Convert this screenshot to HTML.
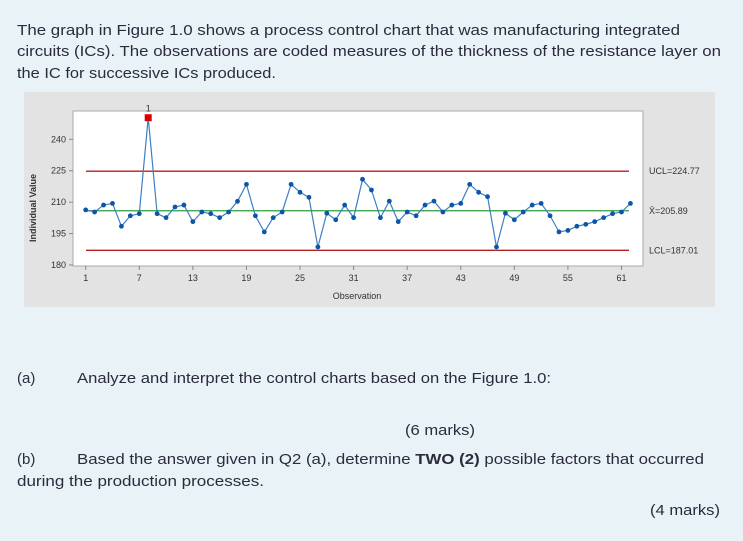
<!DOCTYPE html>
<html><head><meta charset="utf-8"><style>
html,body{margin:0;padding:0;background:#e9f2f6;}
svg{display:block;font-family:"Liberation Sans",sans-serif;}
.q{font-size:15px;fill:#2b2b3d;}
.ax{font-size:9px;fill:#333;}
</style></head><body>
<svg id="page" width="743" height="541" viewBox="0 0 743 541">
<rect width="743" height="541" fill="#e9f2f6"/>
<text class="q" x="17" y="35" textLength="663" lengthAdjust="spacingAndGlyphs">The graph in Figure 1.0 shows a process control chart that was manufacturing integrated</text>
<text class="q" x="17" y="56" textLength="704" lengthAdjust="spacingAndGlyphs">circuits (ICs). The observations are coded measures of the thickness of the resistance layer on</text>
<text class="q" x="17" y="78" textLength="259" lengthAdjust="spacingAndGlyphs">the IC for successive ICs produced.</text>

<g id="chart">
<rect x="24" y="92" width="691" height="215" fill="#e3e3e3"/>
<rect x="73" y="111" width="570" height="155" fill="#fff" stroke="#aaa" stroke-width="1"/>
<g id="marks"></g>
<text x="33" y="205" class="ax" transform="rotate(-90 36 205)" text-anchor="middle" font-weight="bold">Individual Value</text>
<text x="357" y="299" class="ax" text-anchor="middle">Observation</text>
</g>

<text class="q" x="17" y="383">(a)</text>
<text class="q" x="77" y="383" textLength="474" lengthAdjust="spacingAndGlyphs">Analyze and interpret the control charts based on the Figure 1.0:</text>
<text class="q" x="405" y="435" textLength="70" lengthAdjust="spacingAndGlyphs">(6 marks)</text>
<text class="q" x="17" y="464">(b)</text>
<text class="q" x="77" y="464" textLength="627" lengthAdjust="spacingAndGlyphs">Based the answer given in Q2 (a), determine <tspan font-weight="bold">TWO (2)</tspan> possible factors that occurred</text>
<text class="q" x="17" y="486" textLength="247" lengthAdjust="spacingAndGlyphs">during the production processes.</text>
<text class="q" x="650" y="515" textLength="70" lengthAdjust="spacingAndGlyphs">(4 marks)</text>
</svg>
<script>
const values=[206.3,205.3,208.6,209.4,198.5,203.5,204.5,250.3,204.5,202.6,207.7,208.6,200.7,205.3,204.5,202.6,205.3,210.4,218.5,203.5,195.8,202.6,205.3,218.5,214.7,212.3,188.6,204.7,201.6,208.6,202.6,220.9,215.8,202.6,210.5,200.7,205.3,203.5,208.6,210.5,205.3,208.6,209.4,218.5,214.7,212.6,188.6,204.7,201.6,205.3,208.6,209.4,203.5,195.8,196.5,198.5,199.4,200.7,202.6,204.5,205.3,209.4];
const yTicks=[180,195,210,225,240];
const xTicks=[1,7,13,19,25,31,37,43,49,55,61];
const ucl=224.77, mean=205.89, lcl=187.01;
const limitLabels=["UCL=224.77","X\u0304=205.89","LCL=187.01"];
const NS="http://www.w3.org/2000/svg";
const y=v=>265-(v-180)*2.095;
const x=n=>85.7+(n-1)*8.93;
const g=document.getElementById('marks');
function mk(t,a){const e=document.createElementNS(NS,t);for(const k in a)e.setAttribute(k,a[k]);g.appendChild(e);return e;}
yTicks.forEach(v=>{
 const l=mk('line',{x1:69,x2:73,y1:y(v),y2:y(v),stroke:'#888'});
 
 
 const t=mk('text',{x:66,y:y(v)+3,'text-anchor':'end',class:'ax'});t.textContent=v;
 
 
});
xTicks.forEach(n=>{
 const l=mk('line',{x1:x(n),x2:x(n),y1:266,y2:270,stroke:'#888'});
 
 
 const t=mk('text',{x:x(n),y:281,'text-anchor':'middle',class:'ax'});t.textContent=n;
 
 
});
[[ucl,'#b22222','ucl-line'],[mean,'#2e9e3e','mean-line'],[lcl,'#b22222','lcl-line']].forEach((d,i)=>{
 const l=mk('line',{x1:86,x2:629,y1:y(d[0]),y2:y(d[0]),stroke:d[1],'stroke-width':1.3});
 
 
 const t=mk('text',{x:649,y:y(d[0])+3,class:'ax'});t.textContent=limitLabels[i];
 
 
});
const pl=mk('polyline',{points:values.map((v,i)=>x(i+1)+','+y(v)).join(' '),fill:'none',stroke:'#3d7fc4','stroke-width':1.2});


values.forEach((v,i)=>{
 let p;
 if(v>ucl||v<lcl-1){
  p=mk('rect',{x:x(i+1)-3.5,y:y(v)-3.5,width:7,height:7,fill:'#d00'});
  const t=mk('text',{x:x(i+1),y:y(v)-6,'text-anchor':'middle',class:'ax','font-size':'6'});t.textContent='1';
  
  
 } else p=mk('circle',{cx:x(i+1),cy:y(v),r:2.4,fill:'#0b56a8'});
 
 
});
</script>
</body></html>
